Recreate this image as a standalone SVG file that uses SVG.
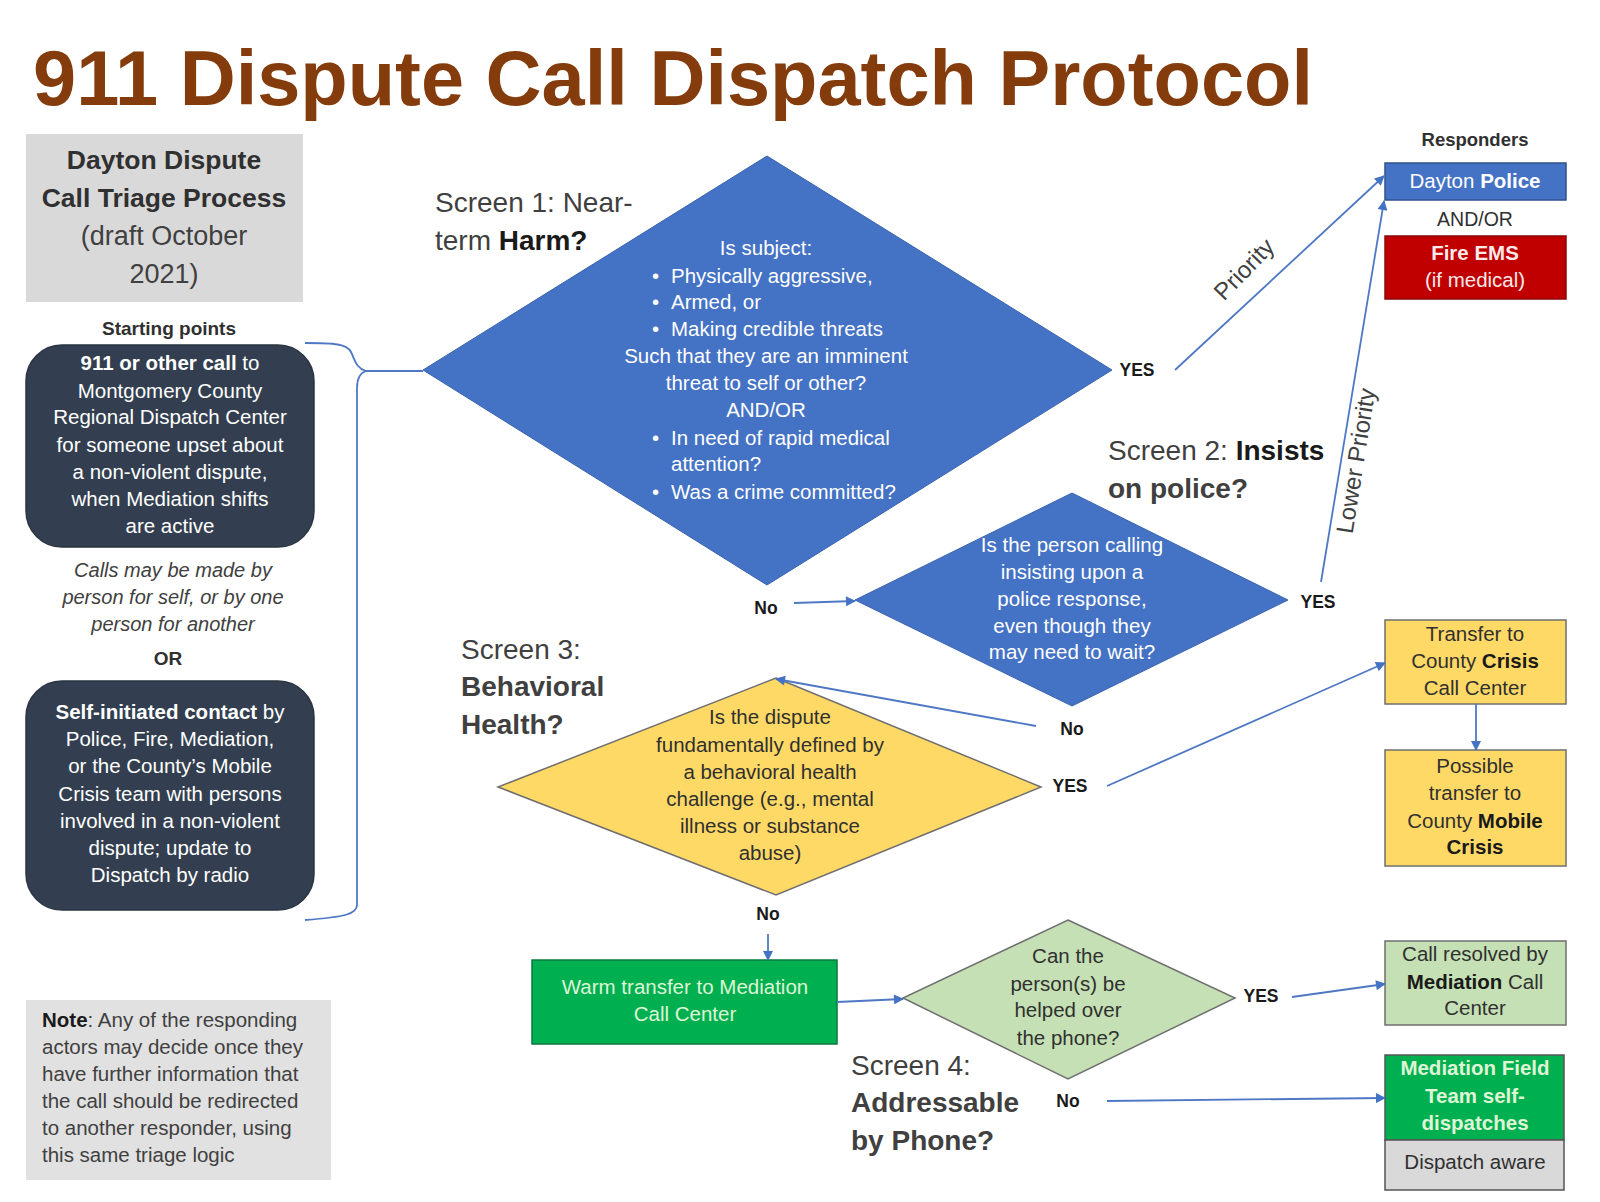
<svg xmlns="http://www.w3.org/2000/svg" width="1600" height="1202" viewBox="0 0 1600 1202">
<style>
text{font-family:"Liberation Sans",Arial,sans-serif;}
.c{text-anchor:middle;}
.b{font-weight:bold;}
.w{fill:#ffffff;}
.k{fill:#303030;}
.g{fill:#404040;}
.dk{fill:#333f50;stroke:#2a3442;stroke-width:1.5;}
.blue{fill:#4472c4;stroke:#3a64b0;stroke-width:1;}
.yel{fill:#ffd966;stroke:#6f6f6f;stroke-width:1.5;}
.lg{fill:#c5e0b4;stroke:#6f6f6f;stroke-width:1.5;}
.grn{fill:#00b050;stroke:#0a7a3e;stroke-width:1.5;}
.gry{fill:#d9d9d9;}
.lbl{font-size:17.5px;font-weight:bold;fill:#1a1a1a;text-anchor:middle;}
.scr{font-size:28px;fill:#404040;}
.conn{stroke:#4f78c4;stroke-width:1.8;fill:none;}
.f20{font-size:20.5px;}
</style>
<defs>
<marker id="ah" viewBox="0 0 10 10" refX="9" refY="5" markerUnits="userSpaceOnUse" markerWidth="12" markerHeight="10" orient="auto">
<path d="M0,0 L10,5 L0,10 z" fill="#4472c4"/>
</marker>
</defs>
<rect width="1600" height="1202" fill="#ffffff"/>

<text id="title" x="33" y="105" font-size="78" font-weight="bold" fill="#843c0c" textLength="1280" lengthAdjust="spacingAndGlyphs">911 Dispute Call Dispatch Protocol</text>

<g id="header">
<rect x="26" y="134" width="277" height="168" class="gry"/>
<text class="c b k" x="164" y="169" font-size="26.5">Dayton Dispute</text>
<text class="c b k" x="164" y="207" font-size="26.5">Call Triage Process</text>
<text class="c g" x="164" y="245" font-size="27">(draft October</text>
<text class="c g" x="164" y="283" font-size="27">2021)</text>
</g>

<text id="starting-label" class="c b k" x="169" y="335" font-size="19">Starting points</text>

<g id="start-call">
<rect x="26" y="345" width="288" height="202" rx="36" class="dk"/>
<g class="c w f20">
<text x="170" y="370"><tspan class="b">911 or other call</tspan> to</text>
<text x="170" y="398">Montgomery County</text>
<text x="170" y="424">Regional Dispatch Center</text>
<text x="170" y="452">for someone upset about</text>
<text x="170" y="479">a non-violent dispute,</text>
<text x="170" y="506">when Mediation shifts</text>
<text x="170" y="533">are active</text>
</g>
</g>

<g id="calls-note" class="c g" font-size="20" font-style="italic">
<text x="173" y="577">Calls may be made by</text>
<text x="173" y="604">person for self, or by one</text>
<text x="173" y="631">person for another</text>
</g>
<text id="or" class="c b k" x="168" y="665" font-size="19">OR</text>

<g id="start-self">
<rect x="26" y="681" width="288" height="229" rx="36" class="dk"/>
<g class="c w f20">
<text x="170" y="719"><tspan class="b">Self-initiated contact</tspan> by</text>
<text x="170" y="746">Police, Fire, Mediation,</text>
<text x="170" y="773">or the County’s Mobile</text>
<text x="170" y="801">Crisis team with persons</text>
<text x="170" y="828">involved in a non-violent</text>
<text x="170" y="855">dispute; update to</text>
<text x="170" y="882">Dispatch by radio</text>
</g>
</g>

<g id="note">
<rect x="26" y="1000" width="305" height="180" fill="#e1e1e1"/>
<g class="g" font-size="20.5">
<text x="42" y="1027"><tspan class="b" fill="#1a1a1a">Note</tspan>: Any of the responding</text>
<text x="42" y="1054">actors may decide once they</text>
<text x="42" y="1081">have further information that</text>
<text x="42" y="1108">the call should be redirected</text>
<text x="42" y="1135">to another responder, using</text>
<text x="42" y="1162">this same triage logic</text>
</g>
</g>

<g id="screen-labels">
<text class="scr" x="435" y="212">Screen 1: Near-</text>
<text class="scr" x="435" y="250">term <tspan class="b" fill="#1a1a1a">Harm?</tspan></text>
<text class="scr" x="1108" y="460">Screen 2: <tspan class="b" fill="#1a1a1a">Insists</tspan></text>
<text class="scr b" x="1108" y="498" fill="#1a1a1a">on police?</text>
<text class="scr" x="461" y="659">Screen 3:</text>
<text class="scr b" x="461" y="696" fill="#1a1a1a">Behavioral</text>
<text class="scr b" x="461" y="734" fill="#1a1a1a">Health?</text>
<text class="scr" x="851" y="1075">Screen 4:</text>
<text class="scr b" x="851" y="1112" fill="#1a1a1a">Addressable</text>
<text class="scr b" x="851" y="1150" fill="#1a1a1a">by Phone?</text>
</g>

<g id="screen1">
<polygon points="767,156 1112,370 767,585 423,370" class="blue"/>
<g class="w" font-size="20.5">
<text class="c" x="766" y="255">Is subject:</text>
<text x="652" y="283">•</text><text x="671" y="283">Physically aggressive,</text>
<text x="652" y="309">•</text><text x="671" y="309">Armed, or</text>
<text x="652" y="336">•</text><text x="671" y="336">Making credible threats</text>
<text class="c" x="766" y="363">Such that they are an imminent</text>
<text class="c" x="766" y="390">threat to self or other?</text>
<text class="c" x="766" y="417">AND/OR</text>
<text x="652" y="445">•</text><text x="671" y="445">In need of rapid medical</text>
<text x="671" y="471">attention?</text>
<text x="652" y="499">•</text><text x="671" y="499">Was a crime committed?</text>
</g>
</g>

<g id="screen2">
<polygon points="1072,493 1288,600 1072,706 855,600" class="blue"/>
<g class="c w" font-size="20.5">
<text x="1072" y="552">Is the person calling</text>
<text x="1072" y="579">insisting upon a</text>
<text x="1072" y="606">police response,</text>
<text x="1072" y="633">even though they</text>
<text x="1072" y="659">may need to wait?</text>
</g>
</g>

<g id="screen3">
<polygon points="776,678 1041,787 776,895 498,787" class="yel"/>
<g class="c k" font-size="20.5">
<text x="770" y="724">Is the dispute</text>
<text x="770" y="752">fundamentally defined by</text>
<text x="770" y="779">a behavioral health</text>
<text x="770" y="806">challenge (e.g., mental</text>
<text x="770" y="833">illness or substance</text>
<text x="770" y="860">abuse)</text>
</g>
</g>

<g id="screen4">
<polygon points="1068,920 1235,998 1068,1079 903,998" class="lg"/>
<g class="c k" font-size="20.5">
<text x="1068" y="963">Can the</text>
<text x="1068" y="991">person(s) be</text>
<text x="1068" y="1017">helped over</text>
<text x="1068" y="1045">the phone?</text>
</g>
</g>

<text id="responders-label" class="c b k" x="1475" y="146" font-size="18.5">Responders</text>
<g id="dayton-police">
<rect x="1385" y="163" width="181" height="37" fill="#4472c4" stroke="#2f528f" stroke-width="1.5"/>
<text class="c w" x="1475" y="188" font-size="20.5">Dayton <tspan class="b">Police</tspan></text>
</g>
<text id="andor" class="c k" x="1475" y="226" font-size="19.5">AND/OR</text>
<g id="fire-ems">
<rect x="1385" y="236" width="181" height="63" fill="#c00000" stroke="#8a0a0a" stroke-width="1.5"/>
<text class="c b" x="1475" y="260" font-size="20.5" fill="#fde9e9">Fire EMS</text>
<text class="c" x="1475" y="287" font-size="20.5" fill="#fde9e9">(if medical)</text>
</g>

<g id="crisis-call-center">
<rect x="1385" y="620" width="181" height="84" class="yel"/>
<g class="c k" font-size="20.5">
<text x="1475" y="641">Transfer to</text>
<text x="1475" y="668">County <tspan class="b" fill="#1a1a1a">Crisis</tspan></text>
<text x="1475" y="695">Call Center</text>
</g>
</g>

<g id="mobile-crisis">
<rect x="1385" y="750" width="181" height="116" class="yel"/>
<g class="c k" font-size="20.5">
<text x="1475" y="773">Possible</text>
<text x="1475" y="800">transfer to</text>
<text x="1475" y="828">County <tspan class="b" fill="#1a1a1a">Mobile</tspan></text>
<text x="1475" y="854" class="b" fill="#1a1a1a">Crisis</text>
</g>
</g>

<g id="warm-transfer">
<rect x="532" y="960" width="305" height="84" class="grn"/>
<g class="c" font-size="20.5" fill="#dff5d6">
<text x="685" y="994">Warm transfer to Mediation</text>
<text x="685" y="1021">Call Center</text>
</g>
</g>

<g id="call-resolved">
<rect x="1385" y="941" width="181" height="84" class="lg"/>
<g class="c k" font-size="20.5">
<text x="1475" y="961">Call resolved by</text>
<text x="1475" y="989"><tspan class="b" fill="#1a1a1a">Mediation</tspan> Call</text>
<text x="1475" y="1015">Center</text>
</g>
</g>

<g id="field-team">
<rect x="1385" y="1055" width="179" height="85" fill="#00b050" stroke="#555555" stroke-width="1.5"/>
<rect x="1385" y="1140" width="179" height="50" fill="#d9d9d9" stroke="#555555" stroke-width="1.5"/>
<g class="c b" font-size="20.5" fill="#dff5d6">
<text x="1475" y="1075">Mediation Field</text>
<text x="1475" y="1103">Team self-</text>
<text x="1475" y="1130">dispatches</text>
</g>
<text class="c k" x="1475" y="1169" font-size="20.5">Dispatch aware</text>
</g>

<g id="connectors">
<path class="conn" d="M305,343 C335,343 347,344 351,352 C355,360 356,368 366,371 M357,905 L357,388 C357,378 360,373 366,371 M366,371 L423,371 M357,905 C357,914 345,917 305,920"/>
<line class="conn" x1="1175" y1="370" x2="1384" y2="176" marker-end="url(#ah)"/>
<line class="conn" x1="1321" y1="582" x2="1384" y2="201" marker-end="url(#ah)"/>
<line class="conn" x1="794" y1="603" x2="855" y2="601" marker-end="url(#ah)"/>
<line class="conn" x1="1036" y1="726" x2="776" y2="679" marker-end="url(#ah)"/>
<line class="conn" x1="1107" y1="786" x2="1385" y2="663" marker-end="url(#ah)"/>
<line class="conn" x1="1476" y1="704" x2="1476" y2="750" marker-end="url(#ah)"/>
<line class="conn" x1="768" y1="934" x2="768" y2="960" marker-end="url(#ah)"/>
<line class="conn" x1="837" y1="1002" x2="903" y2="999" marker-end="url(#ah)"/>
<line class="conn" x1="1292" y1="997" x2="1385" y2="984" marker-end="url(#ah)"/>
<line class="conn" x1="1107" y1="1101" x2="1385" y2="1098" marker-end="url(#ah)"/>
<text class="g" font-size="24" text-anchor="middle" transform="translate(1250,275) rotate(-46)">Priority</text>
<text class="g" font-size="24" text-anchor="middle" transform="translate(1364,462) rotate(-81)">Lower Priority</text>
<text class="lbl" x="1137" y="376">YES</text>
<text class="lbl" x="1318" y="608">YES</text>
<text class="lbl" x="766" y="614">No</text>
<text class="lbl" x="1072" y="735">No</text>
<text class="lbl" x="1070" y="792">YES</text>
<text class="lbl" x="768" y="920">No</text>
<text class="lbl" x="1261" y="1002">YES</text>
<text class="lbl" x="1068" y="1107">No</text>
</g>
</svg>
